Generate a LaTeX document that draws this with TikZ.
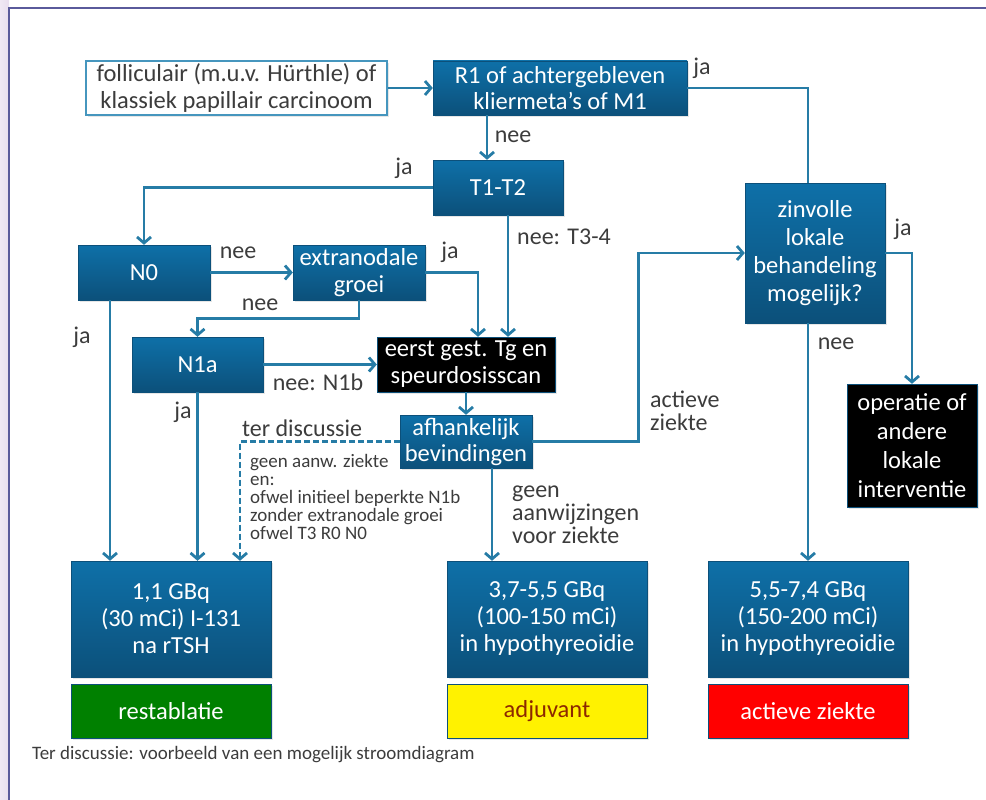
\documentclass[tikz,border=0pt]{standalone}
\usepackage{fontspec}
\setmainfont{Carlito}
\usetikzlibrary{arrows.meta,shadows}

\definecolor{boxtop}{RGB}{14,112,168}
\definecolor{boxbot}{RGB}{12,80,122}
\definecolor{linecol}{RGB}{38,124,166}
\definecolor{edgecol}{RGB}{70,150,190}
\definecolor{labelgray}{RGB}{60,60,60}
\definecolor{framecol}{RGB}{90,90,155}
\definecolor{lavleft}{RGB}{240,232,244}
\definecolor{lavright}{RGB}{232,222,238}
\definecolor{okgreen}{RGB}{0,128,0}
\definecolor{adjtext}{RGB}{140,40,0}

\begin{document}
\begin{tikzpicture}[x=1pt,y=-1pt,
	box/.style={align=center,inner sep=0pt,font=\fontsize{24.5}{27}\selectfont,
		drop shadow={opacity=0.2,shadow xshift=2pt,shadow yshift=-2pt}},
	bluebox/.style={box,draw=boxbot,top color=boxtop,bottom color=boxbot,text=white},
	blackbox/.style={box,draw=boxbot,fill=black,text=white},
	whitebox/.style={box,draw=edgecol,line width=1.5pt,fill=white,text=labelgray},
	lbl/.style={inner sep=0pt,text=labelgray,font=\fontsize{24}{23}\selectfont},
	flow/.style={draw=linecol,line width=2.8pt,-{Straight Barb[length=6pt,width=14pt]}},
	plain/.style={draw=linecol,line width=2.8pt}]
	\useasboundingbox (0,0) rectangle (986,800);
	\fill[left color=lavleft,right color=lavright] (0,0) rectangle (9,800);
	\draw[framecol,line width=2.2pt] (9,800) -- (9,8) -- (986,8);

	% decision boxes
	\node(foll)[whitebox,minimum width=301pt,minimum height=54pt] at (236.5,88) {folliculair (m.u.v. Hürthle) of\\klassiek papillair carcinoom};
	\node(r1)[bluebox,minimum width=254pt,minimum height=54pt,font=\fontsize{24.5}{26}\selectfont] at (560,88) {R1 of achtergebleven\\kliermeta’s of M1};
	\node(t12)[bluebox,minimum width=130pt,minimum height=55pt] at (498,187.5) {T1-T2};
	\node(n0)[bluebox,minimum width=132pt,minimum height=55pt] at (144,272.5) {N0};
	\node(extra)[bluebox,minimum width=132pt,minimum height=55pt] at (359,272.5) {extranodale\\groei};
	\node(n1a)[bluebox,minimum width=131pt,minimum height=55pt] at (197.5,364.5) {N1a};
	\node(eerst)[blackbox,minimum width=178pt,minimum height=55pt] at (466,364.5) {eerst gest. Tg en\\speurdosisscan};
	\node(afh)[bluebox,minimum width=132pt,minimum height=53pt,font=\fontsize{24.5}{26}\selectfont] at (466,441.5) {afhankelijk\\bevindingen};
	\node(zinv)[bluebox,minimum width=140pt,minimum height=140pt,font=\fontsize{24.5}{28}\selectfont] at (815,253) {zinvolle\\lokale\\behandeling\\mogelijk?};
	\node(oper)[blackbox,minimum width=130pt,minimum height=123pt,font=\fontsize{24.5}{29}\selectfont] at (912,445.5) {operatie of\\andere\\lokale\\interventie};

	% doses
	\node(dose1)[bluebox,minimum width=200pt,minimum height=116pt] at (171,619) {1,1 GBq\\(30 mCi) I-131\\na rTSH};
	\node(dose2)[bluebox,minimum width=200pt,minimum height=116pt] at (547,619) {3,7-5,5 GBq\\(100-150 mCi)\\in hypothyreoidie};
	\node(dose3)[bluebox,minimum width=200pt,minimum height=116pt] at (808,619) {5,5-7,4 GBq\\(150-200 mCi)\\in hypothyreoidie};
	\node(rest)[box,draw=boxbot,fill=okgreen,text=white,minimum width=200pt,minimum height=54pt] at (171,711) {restablatie};
	\node(adj)[box,draw=boxbot,fill=yellow,text=adjtext,minimum width=200pt,minimum height=54pt] at (547,711) {adjuvant};
	\node(act)[box,draw=boxbot,fill=red,text=white,minimum width=200pt,minimum height=54pt] at (808,711) {actieve ziekte};

	% labels
	\node(ja1)[lbl] at (702,68) {ja};
	\node(nee1)[lbl] at (513,137) {nee};
	\node(ja2)[lbl] at (404,168) {ja};
	\node(neet)[lbl] at (564,237) {nee: T3-4};
	\node(nee2)[lbl] at (238,253) {nee};
	\node(ja3)[lbl] at (450,252) {ja};
	\node(nee3)[lbl] at (260,305) {nee};
	\node(ja4)[lbl] at (82,337) {ja};
	\node(neen)[lbl] at (318,382) {nee: N1b};
	\node(ja5)[lbl] at (183,412) {ja};
	\node(terd)[lbl] at (302,428) {ter discussie};
	\node(ja6)[lbl] at (903,229) {ja};
	\node(nee4)[lbl] at (836,344) {nee};
	\node(actz)[lbl,anchor=west,align=left] at (650,411) {actieve\\ziekte};
	\node(geen)[lbl,anchor=west,align=left] at (512,515) {geen\\aanwijzingen\\voor ziekte};
	\node(crit)[lbl,anchor=west,align=left,font=\fontsize{19}{18}\selectfont] at (250,497) {geen aanw. ziekte\\en:\\ofwel initieel beperkte N1b\\zonder extranodale groei\\ofwel T3 R0 N0};
	\node(note)[lbl,anchor=west,font=\fontsize{19}{20}\selectfont] at (32,755) {Ter discussie: voorbeeld van een mogelijk stroomdiagram};

	% connectors
	\path[flow]	(foll) edge (r1)
			(n0) edge (extra)
			(n1a) edge (eerst)
			(eerst) edge (afh);
	\draw[flow] ([xshift=-73pt]r1.south) -- ([xshift=-11pt]t12.north);
	\draw[plain] (r1.east) -| ([xshift=-7pt]zinv.north);
	\draw[flow] (t12.west) -| (n0.north);
	\draw[flow] ([xshift=10pt]t12.south) -- ([xshift=10pt]t12.south |- eerst.north);
	\draw[flow] (extra.east) -| ([xshift=12pt]eerst.north);
	\draw[flow] (extra.south) -- ++(0,18) -| (n1a.north);
	\draw[flow,dash pattern=on 6pt off 3pt] (afh.west) -| ([xshift=69pt]dose1.north);
	\draw[flow] (afh.east) -- ++(106,0) |- (zinv.west);
	\draw[flow] (zinv.east) -| (oper.north);
	\draw[flow] (zinv.south -| dose3.north) -- (dose3.north);
	\draw[flow] ([xshift=26pt]afh.south) -- ([xshift=26pt]afh.south |- dose2.north);
	\draw[flow] ([xshift=-34pt]n0.south) -- ([xshift=-34pt]n0.south |- dose1.north);
	\draw[flow] (n1a.south) -- (n1a.south |- dose1.north);
\end{tikzpicture}
\end{document}
